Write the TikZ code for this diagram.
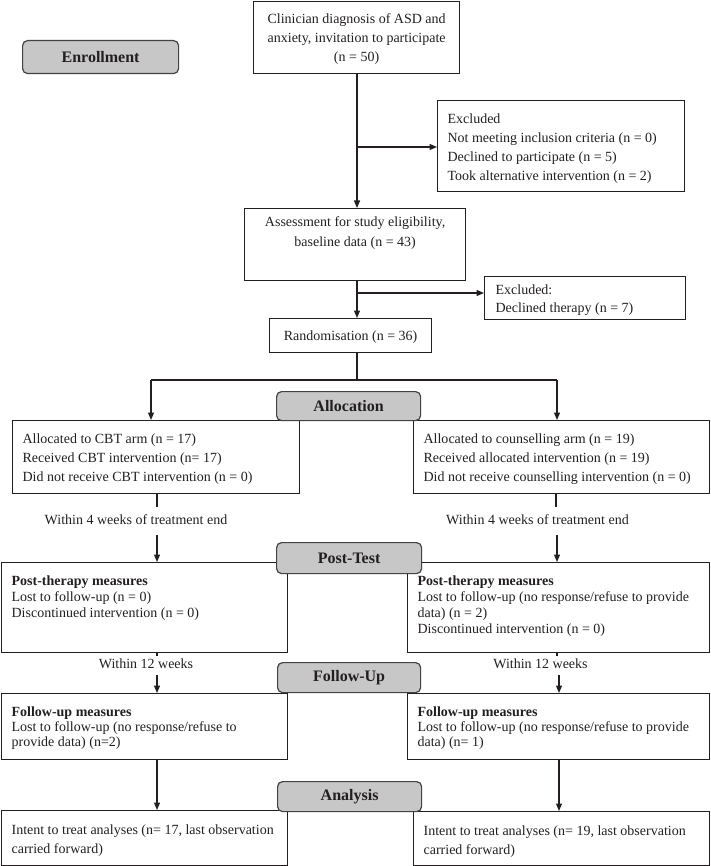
\documentclass[tikz,border=0pt]{standalone}
\usepackage{fontspec}
\setmainfont{Liberation Serif}
\usetikzlibrary{arrows.meta,calc}
\newcommand{\tb}[6]{\parbox[c][#2pt][t]{#1pt}{\fontsize{14}{#5}\selectfont\vspace*{#3pt}\raggedright\leftskip=#4pt\relax #6\par}}
\newcommand{\cb}[5]{\parbox[c][#2pt][t]{#1pt}{\fontsize{14}{#4}\selectfont\vspace*{#3pt}\centering #5\par}}
\definecolor{ink}{RGB}{35,31,32}
\tikzset{
  box/.style={draw=ink, line width=1.2pt, inner sep=0pt, anchor=north west, text=ink},
  lab/.style={draw=ink!85, fill=black!22, rounded corners=5pt, line width=1.2pt, inner sep=0pt,
    anchor=north west, font=\bfseries\fontsize{16}{19}\selectfont, text=ink},
  note/.style={inner sep=0pt, font=\fontsize{14}{17}\selectfont, text=ink},
  conn/.style={draw=ink, line width=1.2pt},
  arr/.style={conn, -{Triangle[length=7.5pt,width=6pt]}}
}
\begin{document}
\begin{tikzpicture}[x=1pt,y=-1pt]
\useasboundingbox (0,0) rectangle (710,866);
% boxes
\node[box] (top) at (253,1) {\cb{206}{72}{12}{19}{Clinician diagnosis of ASD and\\anxiety, invitation to participate\\(n = 50)}};
\node[box] (excl1) at (437,100) {\tb{247}{91}{13}{10}{19}{Excluded\\Not meeting inclusion criteria (n = 0)\\Declined to participate (n = 5)\\Took alternative intervention (n = 2)}};
\node[box] (assess) at (244,208) {\cb{221}{72}{8}{20}{Assessment for study eligibility,\\baseline data (n = 43)}};
\node[box] (excl2) at (484,276) {\tb{201}{43}{8}{11}{18}{Excluded:\\Declined therapy (n = 7)}};
\node[box] (rand) at (269,318) {\cb{162}{34}{12.5}{19}{Randomisation (n = 36)}};
\node[box] (allocL) at (12,420) {\tb{287}{73}{12.8}{10}{19}{Allocated to CBT arm (n = 17)\\Received CBT intervention (n= 17)\\Did not receive CBT intervention (n = 0)}};
\node[box] (allocR) at (413,420) {\tb{296}{73}{12.8}{10}{19}{Allocated to counselling arm (n = 19)\\Received allocated intervention (n = 19)\\Did not receive counselling intervention (n = 0)}};
\node[box] (postL) at (1,562) {\tb{286}{90}{13}{10}{16}{\textbf{Post-therapy measures}\\Lost to follow-up (n = 0)\\Discontinued intervention (n = 0)}};
\node[box] (postR) at (407,562) {\tb{302}{90}{13}{10}{16}{\textbf{Post-therapy measures}\\Lost to follow-up (no response/refuse to provide\\data) (n = 2)\\Discontinued intervention (n = 0)}};
\node[box] (folL) at (1,693) {\tb{286}{66}{13.5}{10}{15}{\textbf{Follow-up measures}\\Lost to follow-up (no response/refuse to\\provide data) (n=2)}};
\node[box] (folR) at (407,693) {\tb{302}{66}{13.5}{10}{15}{\textbf{Follow-up measures}\\Lost to follow-up (no response/refuse to provide\\data) (n= 1)}};
\node[box] (anaL) at (1,810) {\tb{286}{55}{13.8}{10}{19}{Intent to treat analyses (n= 17, last observation\\carried forward)}};
\node[box] (anaR) at (413,811) {\tb{296}{54}{13.8}{10}{19}{Intent to treat analyses (n= 19, last observation\\carried forward)}};
% notes
\node[note] (w4L) at (136,520) {Within 4 weeks of treatment end};
\node[note] (w4R) at (537.5,520) {Within 4 weeks of treatment end};
\node[note] (w12L) at (146,664) {Within 12 weeks};
\node[note] (w12R) at (540.5,664) {Within 12 weeks};
% coordinates
\coordinate (b1) at (357,147);
\coordinate (b2) at (357,293);
\coordinate (sp) at (357,380);
\coordinate (cl) at (151,380);
\coordinate (cr) at (557,380);
\coordinate (l4a) at (157,507);
\coordinate (l4b) at (157,535);
\coordinate (r4a) at (556,507);
\coordinate (r4b) at (557,535);
\coordinate (l12a) at (157,656);
\coordinate (l12b) at (157,675);
\coordinate (r12a) at (557,656);
\coordinate (r12b) at (559,675);
% connectors
\draw[arr] (top.south -| b1) -- (b1 |- assess.north);
\draw[arr] (b1) -- (b1 -| excl1.west);
\draw[arr] (b2 |- assess.south) -- (b2 |- rand.north);
\draw[arr] (b2) -- (b2 -| excl2.west);
\draw[conn] (sp |- rand.south) -- (sp);
\draw[conn] (cl) -- (cr);
\draw[arr] (cl) -- (cl |- allocL.north);
\draw[arr] (cr) -- (cr |- allocR.north);
\draw[conn] (l4a |- allocL.south) -- (l4a);
\draw[arr] (l4b) -- (l4b |- postL.north);
\draw[conn] (r4a |- allocR.south) -- (r4a);
\draw[arr] (r4b) -- (r4b |- postR.north);
\draw[conn] (l12a |- postL.south) -- (l12a);
\draw[arr] (l12b) -- (l12b |- folL.north);
\draw[conn] (r12a |- postR.south) -- (r12a);
\draw[arr] (r12b) -- (r12b |- folR.north);
\draw[arr] (l12b |- folL.south) -- (l12b |- anaL.north);
\draw[arr] (r12b |- folR.south) -- (r12b |- anaR.north);
% stage labels
\node[lab, minimum width=156pt, minimum height=33pt] (enr) at (22,40) {Enrollment};
\node[lab, minimum width=144pt, minimum height=29pt] (alloc) at (276,391) {Allocation};
\node[lab, minimum width=145pt, minimum height=31pt] (post) at (276,542) {Post-Test};
\node[lab, minimum width=143pt, minimum height=30pt] (fol) at (277,662) {Follow-Up};
\node[lab, minimum width=144pt, minimum height=30pt] (ana) at (277,781) {Analysis};
\end{tikzpicture}
\end{document}
